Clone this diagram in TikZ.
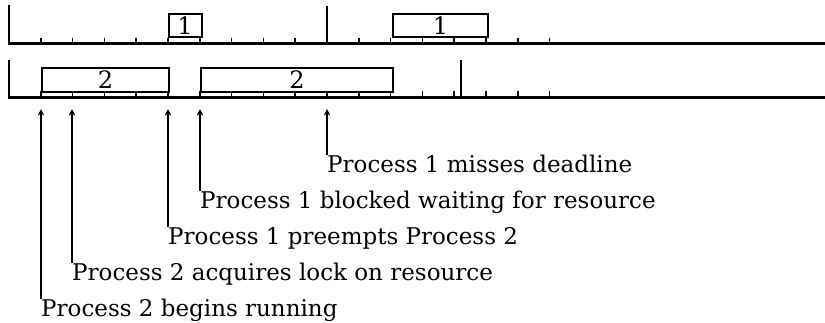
\documentclass[tikz,border=0pt]{standalone}
\usepackage{fontspec}
\setmainfont{DejaVu Serif}
\usetikzlibrary{arrows.meta}

\begin{document}
\begin{tikzpicture}[x=1pt,y=-1pt,
  axis/.style={line width=2.6pt},
  post/.style={line width=2.8pt},
  tick/.style={line width=1.6pt},
  procbox/.style={draw,line width=2.2pt,inner sep=0pt,anchor=north west,
    font=\fontsize{24}{24}\selectfont},
  lbl/.style={inner sep=0pt,anchor=north west,text height=17pt,
    font=\fontsize{23}{23}\selectfont},
  evarrow/.style={line width=1.1pt,-{Straight Barb[length=5pt,width=5pt]}}
]
\path[use as bounding box] (0,0) rectangle (825,322);

% time axes of the two processes
\draw[axis] (8,43.5) -- (825,43.5);
\draw[axis] (8,97.5) -- (825,97.5);
\draw[post] (9,5) -- (9,44.5);
\draw[post] (9,60) -- (9,98.5);

% unit ticks
\foreach \t in {1,...,17}{
  \pgfmathsetmacro{\xx}{9+31.8*\t}
  \draw[tick] (\xx,37.5) -- (\xx,43);
  \draw[tick] (\xx,91) -- (\xx,97);
}

% deadline markers
\draw[post,line width=2.4pt] (327,6) -- (327,43);
\draw[post,line width=2.4pt] (461,60) -- (461,97);

% execution intervals
\node[procbox,minimum width=33pt,minimum height=23.5pt] (p1a) at (167.5,12.5) {1};
\node[procbox,minimum width=95pt,minimum height=23.5pt] (p1b) at (392,12.5) {1};
\node[procbox,minimum width=127pt,minimum height=24.5pt] (p2a) at (41,66.5) {2};
\node[procbox,minimum width=192pt,minimum height=24.5pt] (p2b) at (200,66.5) {2};

% event markers
\coordinate (e1) at (41,109);
\coordinate (e2) at (72,109);
\coordinate (e3) at (168,109);
\coordinate (e4) at (200,109);
\coordinate (e5) at (327,109);

\node[lbl] (l5) at (327,155) {Process 1 misses deadline};
\node[lbl] (l4) at (200,191) {Process 1 blocked waiting for resource};
\node[lbl] (l3) at (168,227) {Process 1 preempts Process 2};
\node[lbl] (l2) at (72,263) {Process 2 acquires lock on resource};
\node[lbl] (l1) at (41,299) {Process 2 begins running};

\draw[evarrow] (l1.north west) -- (e1);
\draw[evarrow] (l2.north west) -- (e2);
\draw[evarrow] (l3.north west) -- (e3);
\draw[evarrow] (l4.north west) -- (e4);
\draw[evarrow] (l5.north west) -- (e5);
\end{tikzpicture}
\end{document}
